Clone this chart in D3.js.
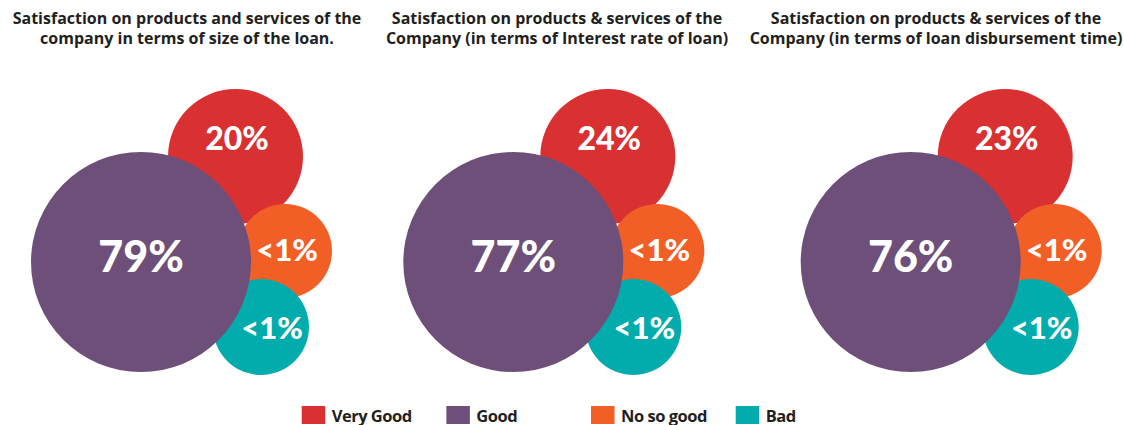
<!DOCTYPE html>
<html><head><meta charset="utf-8">
<script src="https://cdn.jsdelivr.net/npm/d3@7"></script>
<style>
html,body{margin:0;padding:0;background:#fff;}
svg{display:block;}
</style></head>
<body>
<svg id="chart" width="1124" height="425"></svg>
<script>
// ---- data ----
const categories = ["Very Good", "Good", "No so good", "Bad"];
const titles = [
  ["Satisfaction on products and services of the", "company in terms of size of the loan."],
  ["Satisfaction on products & services of the", "Company (in terms of Interest rate of loan)"],
  ["Satisfaction on products & services of the", "Company (in terms of loan disbursement time)"]
];
const veryGood = ["20%", "24%", "23%"];
const good = ["79%", "77%", "76%"];
const notSoGood = ["<1%", "<1%", "<1%"];
const bad = ["<1%", "<1%", "<1%"];

// ---- layout / style ----
const colors = d3.scaleOrdinal().domain(categories).range(["#D93131", "#6D4F79", "#F15F26", "#03ACAC"]);
const radius = d3.scaleOrdinal().domain(categories).range([67.5, 110, 47, 48]);
// offsets of each bubble relative to the big "Good" bubble centre
const offX = d3.scaleOrdinal().domain(categories).range([94.5, 0, 144, 120]);
const offY = d3.scaleOrdinal().domain(categories).range([-105.5, 0, -11, 65]);
const labelDx = d3.scaleOrdinal().domain(categories).range([1.5, 0, 2, 11]);
const labelSize = d3.scaleOrdinal().domain(categories).range([32, 43, 31, 31]);
const panelCx = [141, 513.3, 910.7];
const titleCx = [187, 557, 936];
const cy = 262;
const drawOrder = ["Very Good", "No so good", "Bad", "Good"];

const svg = d3.select("#chart");
const series = { "Very Good": veryGood, "Good": good, "No so good": notSoGood, "Bad": bad };

titles.forEach((lines, i) => {
  const g = svg.append("g");
  g.selectAll("text.title").data(lines).join("text")
    .attr("class", "title")
    .attr("x", titleCx[i])
    .attr("y", (d, j) => 23.5 + j * 20)
    .attr("text-anchor", "middle")
    .attr("font-family", "'Open Sans', 'Noto Sans', sans-serif")
    .attr("font-weight", 700)
    .attr("font-size", 16)
    .attr("fill", "#231F20")
    .text(d => d);

  const bubbles = drawOrder.map(c => ({ cat: c, label: series[c][i] }));
  const cx = panelCx[i];
  g.selectAll("circle").data(bubbles).join("circle")
    .attr("cx", d => cx + offX(d.cat))
    .attr("cy", d => cy + offY(d.cat))
    .attr("r", d => radius(d.cat))
    .attr("fill", d => colors(d.cat));

  const labelY = { "Very Good": -112, "Good": 9.5, "No so good": -1, "Bad": 77 };
  g.selectAll("text.lbl").data(bubbles).join("text")
    .attr("class", "lbl")
    .attr("x", d => cx + offX(d.cat) + labelDx(d.cat))
    .attr("y", d => cy + labelY[d.cat])
    .attr("text-anchor", "middle")
    .attr("font-family", "Lato, Roboto, sans-serif")
    .attr("font-weight", 900)
    .attr("font-size", d => labelSize(d.cat))
    .attr("fill", "#fff")
    .text(d => d.label);
});

// ---- legend ----
const legX = d3.scalePoint().domain(categories).range([301.7, 735.7]);
const leg = svg.append("g");
const li = leg.selectAll("g").data(categories).join("g")
  .attr("transform", d => `translate(${legX(d)},406)`);
li.append("rect").attr("width", 23.5).attr("height", 18).attr("fill", d => colors(d));
li.append("text").attr("x", 30).attr("y", 15.5)
  .attr("font-family", "'Open Sans', 'Noto Sans', sans-serif")
  .attr("font-weight", 700).attr("font-size", 16.5).attr("letter-spacing", -0.5)
  .attr("fill", "#231F20").text(d => d);
</script>
</body></html>
